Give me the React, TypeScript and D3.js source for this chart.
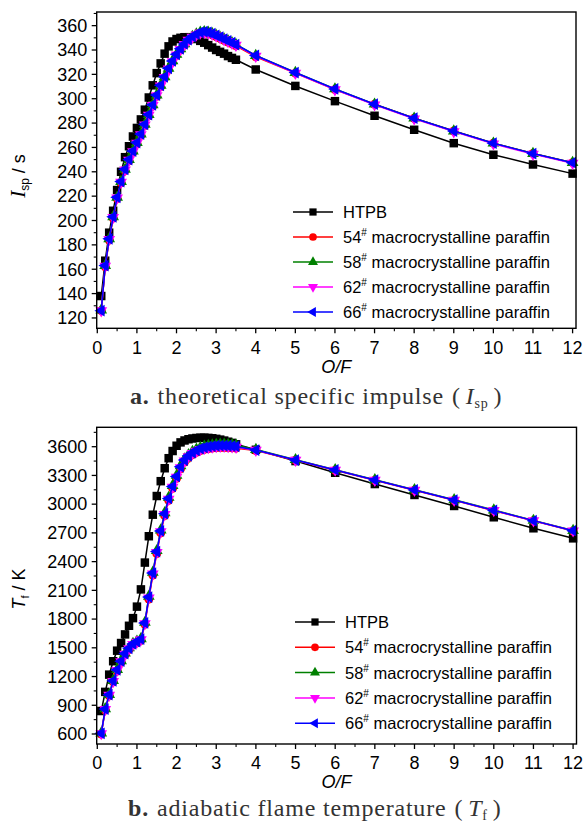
import React from 'react';
import * as d3 from 'd3';

// ---------- DATA ----------
const ofValues = [
  0.1, 0.2, 0.3, 0.4, 0.5, 0.6, 0.7, 0.8, 0.9, 1.0,
  1.1, 1.2, 1.3, 1.4, 1.5, 1.6, 1.7, 1.8, 1.9, 2.0,
  2.1, 2.2, 2.3, 2.4, 2.5, 2.6, 2.7, 2.8, 2.9, 3.0,
  3.1, 3.2, 3.3, 3.4, 3.5, 4, 5, 6, 7, 8, 9, 10, 11, 12,
];

const seriesLabels = ['HTPB', '54', '58', '62', '66'];

// Theoretical specific impulse (s)
const ispHTPB = [
  138, 167, 190, 208, 225, 240, 252, 261, 269, 276,
  283, 291, 301, 311, 321, 329, 337, 343, 347, 349,
  350, 350.5, 350.5, 350, 349, 347.5, 346, 344, 342, 340,
  338.5, 337, 335, 333.5, 332, 324, 310.5, 298, 286, 274.5, 263.5, 254, 246, 238.5,
];
const isp54 = [
  126, 162, 184, 202, 218, 231, 241, 249, 256, 263,
  270, 278, 286, 294, 302, 310, 317, 324, 330, 335.5,
  340, 344, 347.5, 350, 352, 353.5, 354, 353.5, 352.5, 351,
  349.5, 348, 346.5, 345, 343.5, 334.5, 321, 307.5, 295.5, 284, 273.5, 263.5, 255, 247.5,
];
const isp58 = [
  126.5, 163, 185, 203, 219, 232, 242, 250, 257, 264,
  271, 279, 287, 295, 303, 311, 318, 325, 331, 336.5,
  341, 345, 348.5, 351, 353, 354.5, 355, 354.5, 353.5, 352,
  350.5, 349, 347.5, 346, 344.5, 335.5, 321.5, 308, 295.5, 284, 273.5, 263.5, 255, 247.5,
];
const isp62 = [
  126, 162.5, 184.5, 202.5, 218.5, 231.5, 241.5, 249.5, 256.5, 263.5,
  270.5, 278.5, 286.5, 294.5, 302.5, 310.5, 317.5, 324.5, 330.5, 336,
  340.5, 344.5, 348, 350.5, 352.5, 354, 354.5, 354, 353, 351.5,
  350, 348.5, 347, 345.5, 344, 335, 321, 307.5, 295, 283.5, 273, 263, 254.5, 247,
];
const isp66 = [
  126, 163, 185, 203, 219, 232, 242, 250, 257, 264,
  271, 279, 287, 295, 303, 311, 318, 325, 331, 336.5,
  341, 345, 348.5, 351, 353, 354.5, 355, 354.5, 353.5, 352,
  350.5, 349, 347.5, 346, 344.5, 335.5, 321.5, 308, 295.5, 284, 273.5, 263.5, 255, 247.5,
];

// Adiabatic flame temperature (K)
const tfHTPB = [
  840, 1040, 1220, 1360, 1470, 1550, 1640, 1730, 1810, 1930,
  2110, 2390, 2665, 2890, 3085, 3240, 3375, 3480, 3555, 3610,
  3645, 3665, 3678, 3686, 3691, 3694, 3694, 3692, 3688, 3682,
  3674, 3664, 3652, 3640, 3625, 3568, 3450, 3328, 3210, 3096, 2981, 2863, 2748, 2643,
];
const tf54 = [
  600, 850, 1000, 1145, 1258, 1348, 1428, 1483, 1528, 1553,
  1578, 1745, 2010, 2260, 2485, 2700, 2880, 3040, 3165, 3270,
  3370, 3440, 3485, 3518, 3542, 3560, 3572, 3580, 3586, 3590,
  3592, 3592, 3590, 3588, 3585, 3560, 3458, 3354, 3249, 3145, 3040, 2932, 2826, 2720,
];
const tf58 = [
  610, 862, 1012, 1158, 1273, 1364, 1444, 1499, 1544, 1569,
  1594, 1765, 2038, 2288, 2514, 2730, 2910, 3070, 3195, 3300,
  3400, 3470, 3516, 3550, 3574, 3592, 3604, 3612, 3618, 3622,
  3624, 3624, 3622, 3619, 3614, 3570, 3464, 3360, 3255, 3150, 3046, 2938, 2830, 2725,
];
const tf62 = [
  605, 856, 1006, 1150, 1265, 1355, 1435, 1490, 1535, 1560,
  1585, 1752, 2022, 2272, 2497, 2712, 2892, 3052, 3177, 3282,
  3382, 3452, 3497, 3530, 3554, 3572, 3584, 3592, 3598, 3602,
  3604, 3604, 3602, 3599, 3595, 3563, 3460, 3356, 3251, 3147, 3042, 2934, 2827, 2722,
];
const tf66 = [
  607, 860, 1010, 1155, 1270, 1360, 1440, 1495, 1540, 1565,
  1590, 1760, 2030, 2280, 2505, 2720, 2900, 3060, 3185, 3290,
  3390, 3460, 3505, 3538, 3562, 3580, 3592, 3600, 3606, 3610,
  3612, 3612, 3610, 3607, 3603, 3565, 3461, 3357, 3252, 3148, 3043, 2935, 2828, 2723,
];

const xMajorTicks = [0, 1, 2, 3, 4, 5, 6, 7, 8, 9, 10, 11, 12];
const ispTicks = [120, 140, 160, 180, 200, 220, 240, 260, 280, 300, 320, 340, 360];
const tfTicks = [600, 900, 1200, 1500, 1800, 2100, 2400, 2700, 3000, 3300, 3600];

// ---------- STYLE ----------
const COLORS = ['#000000', '#ff0000', '#008000', '#ff00ff', '#0000ff'];
const SYMBOLS = [
  { type: d3.symbolSquare, size: 72, rot: 0 },
  { type: d3.symbolCircle, size: 64, rot: 0 },
  { type: d3.symbolTriangle, size: 60, rot: 0 },
  { type: d3.symbolTriangle, size: 60, rot: 180 },
  { type: d3.symbolTriangle, size: 60, rot: -90 },
];
const SANS = '"Liberation Sans", Arial, sans-serif';
const SERIF = '"Liberation Serif", "Times New Roman", serif';

function Marker({ i, x, y, scale = 1 }) {
  const s = SYMBOLS[i];
  const path = d3.symbol().type(s.type).size(s.size * scale * scale)();
  return (
    <path
      d={path || ''}
      transform={`translate(${x},${y}) rotate(${s.rot})`}
      fill={COLORS[i]}
      stroke="none"
    />
  );
}

function Panel({ box, yDomain, yTicks, yMinorStep, series, yLabel, legend, xTitleY }) {
  const [left, right, top, bottom] = box;
  const x = d3.scaleLinear().domain([-0.015, 12.086]).range([left, right]);
  const y = d3.scaleLinear().domain(yDomain).range([bottom, top]);
  const xMinor = d3.range(0.5, 12.01, 1);
  const yMinor = d3
    .range(Math.ceil(yDomain[0] / yMinorStep) * yMinorStep, yDomain[1], yMinorStep)
    .filter((v) => !yTicks.includes(v));
  const line = d3
    .line<number>()
    .x((_, k) => x(ofValues[k]))
    .y((d) => y(d));

  return (
    <g>
      {series.map((vals, i) => (
        <g key={i}>
          <path d={line(vals) || ''} fill="none" stroke={COLORS[i]} strokeWidth={1.5} />
          {vals.map((v, k) => (
            <Marker key={k} i={i} x={x(ofValues[k])} y={y(v)} />
          ))}
        </g>
      ))}
      <rect x={left} y={top} width={right - left} height={bottom - top} fill="none" stroke="#000" strokeWidth={1.4} />
      {xMajorTicks.map((t) => (
        <g key={'xt' + t}>
          <line x1={x(t)} x2={x(t)} y1={bottom} y2={bottom + 5} stroke="#000" strokeWidth={1.3} />
          <text x={x(t)} y={bottom + 19} dy="0.35em" textAnchor="middle" fontFamily={SANS} fontSize={18}>
            {t}
          </text>
        </g>
      ))}
      {xMinor.map((t) => (
        <line key={'xm' + t} x1={x(t)} x2={x(t)} y1={bottom} y2={bottom + 3} stroke="#000" strokeWidth={1.1} />
      ))}
      {yTicks.map((t) => (
        <g key={'yt' + t}>
          <line x1={left - 5} x2={left} y1={y(t)} y2={y(t)} stroke="#000" strokeWidth={1.3} />
          <text x={left - 9.5} y={y(t)} dy="0.35em" textAnchor="end" fontFamily={SANS} fontSize={18}>
            {t}
          </text>
        </g>
      ))}
      {yMinor.map((t) => (
        <line key={'ym' + t} x1={left - 3} x2={left} y1={y(t)} y2={y(t)} stroke="#000" strokeWidth={1.1} />
      ))}
      <text
        x={(left + right) / 2}
        y={xTitleY}
        dy="0.35em"
        textAnchor="middle"
        fontFamily={SANS}
        fontSize={18}
        fontStyle="italic"
      >
        O/F
      </text>
      {yLabel}
      {seriesLabels.map((lab, i) => {
        const ly = legend.y0 + i * legend.dy;
        return (
          <g key={'lg' + i}>
            <line x1={legend.x} x2={legend.x + 40} y1={ly} y2={ly} stroke={COLORS[i]} strokeWidth={1.5} />
            <Marker i={i} x={legend.x + 20} y={ly} scale={0.85} />
            <text x={legend.x + 50} y={ly} dy="0.36em" fontFamily={SANS} fontSize={16.5}>
              {i === 0 ? (
                lab
              ) : (
                <>
                  {lab}
                  <tspan fontSize={10} dy={-7}>#</tspan>
                  <tspan dy={7}> macrocrystalline paraffin</tspan>
                </>
              )}
            </text>
          </g>
        );
      })}
    </g>
  );
}

export default function App() {
  return (
    <svg
      width={586}
      height={825}
      viewBox="0 0 586 825"
      style={{ position: 'absolute', left: 0, top: 0, background: '#fff' }}
    >
      <rect x={0} y={0} width={586} height={825} fill="#fff" />
      <Panel
        box={[96.7, 576, 12, 328.3]}
        yDomain={[111.5, 371.2]}
        yTicks={ispTicks}
        yMinorStep={10}
        series={[ispHTPB, isp54, isp58, isp62, isp66]}
        xTitleY={367}
        legend={{ x: 293, y0: 212, dy: 25 }}
        yLabel={
          <text transform="translate(25,176) rotate(-90)" textAnchor="middle" fontFamily={SANS} fontSize={18}>
            <tspan fontFamily={SERIF} fontStyle="italic" fontSize={21}>I</tspan>
            <tspan fontSize={12} dy={4}>sp</tspan>
            <tspan dy={-4}> / s</tspan>
          </text>
        }
      />
      <Panel
        box={[96.7, 576.5, 427.3, 744]}
        yDomain={[495.6, 3802.6]}
        yTicks={tfTicks}
        yMinorStep={150}
        series={[tfHTPB, tf54, tf58, tf62, tf66]}
        xTitleY={782}
        legend={{ x: 295, y0: 622, dy: 25.3 }}
        yLabel={
          <text transform="translate(25,589) rotate(-90)" textAnchor="middle" fontFamily={SANS} fontSize={18}>
            <tspan fontStyle="italic">T</tspan>
            <tspan fontSize={11} dy={4}>f</tspan>
            <tspan dy={-4}> / K</tspan>
          </text>
        }
      />
      <text x={130} y={404} fontFamily={SERIF} fontSize={24} fill="#333" letterSpacing={0.8}>
        <tspan fontWeight="bold">a.</tspan>
        <tspan dx={8}>theoretical specific impulse</tspan>
        <tspan dx={8}>(</tspan>
        <tspan dx={5} fontStyle="italic">I</tspan>
        <tspan fontSize={14} dy={4}>sp</tspan>
        <tspan dx={5} dy={-4}>)</tspan>
      </text>
      <text x={128} y={816} fontFamily={SERIF} fontSize={24} fill="#333" letterSpacing={0.8}>
        <tspan fontWeight="bold">b.</tspan>
        <tspan dx={8}>adiabatic flame temperature</tspan>
        <tspan dx={8}>(</tspan>
        <tspan dx={5} fontStyle="italic">T</tspan>
        <tspan fontSize={14} dy={4}>f</tspan>
        <tspan dx={5} dy={-4}>)</tspan>
      </text>
    </svg>
  );
}
